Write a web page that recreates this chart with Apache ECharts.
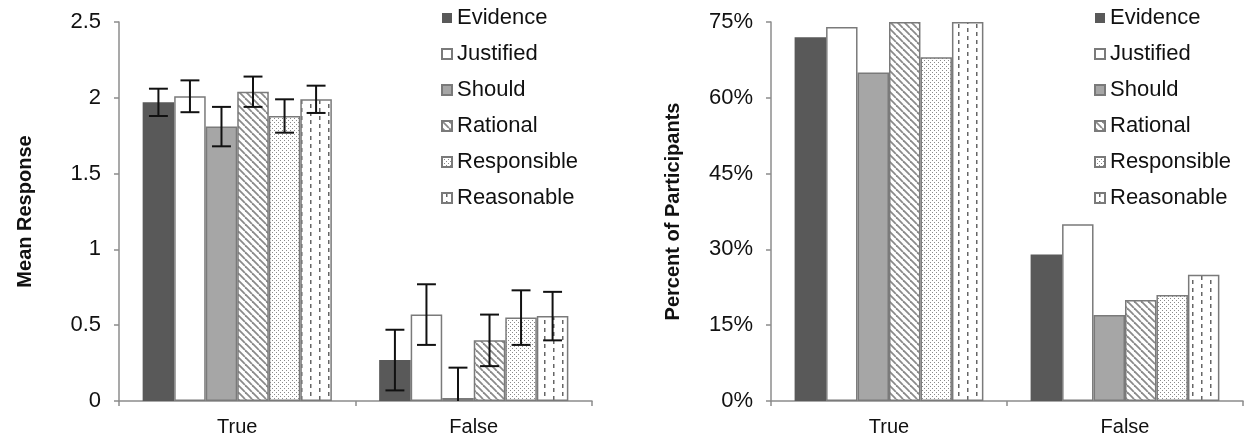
<!DOCTYPE html>
<html>
<head>
<meta charset="utf-8">
<script src="https://cdn.jsdelivr.net/npm/echarts@6/dist/echarts.min.js"></script>
<style>
html,body{margin:0;padding:0;background:#fff;}
#chart{width:1246px;height:440px;}
</style>
</head>
<body>
<div id="chart"></div>
<script>
// ---- data ----
var categories = ['True', 'False'];
var seriesNames = ['Evidence', 'Justified', 'Should', 'Rational', 'Responsible', 'Reasonable'];
// Left chart: mean response (True, False)
var meanEvidence    = [1.97, 0.27];
var meanJustified   = [2.01, 0.57];
var meanShould      = [1.81, 0.02];
var meanRational    = [2.04, 0.40];
var meanResponsible = [1.88, 0.55];
var meanReasonable  = [1.99, 0.56];
// Left chart: error (half-length of error bar)
var errEvidence    = [0.09, 0.20];
var errJustified   = [0.105, 0.20];
var errShould      = [0.13, 0.20];
var errRational    = [0.10, 0.17];
var errResponsible = [0.11, 0.18];
var errReasonable  = [0.09, 0.16];
// Right chart: percent of participants (True, False)
var pctEvidence    = [72, 29];
var pctJustified   = [74, 35];
var pctShould      = [65, 17];
var pctRational    = [75, 20];
var pctResponsible = [68, 21];
var pctReasonable  = [75, 25];
// axis ticks
var leftTicks = [0, 0.5, 1, 1.5, 2, 2.5];
var rightTicks = [0, 15, 30, 45, 60, 75];

var means = [meanEvidence, meanJustified, meanShould, meanRational, meanResponsible, meanReasonable];
var errs = [errEvidence, errJustified, errShould, errRational, errResponsible, errReasonable];
var pcts = [pctEvidence, pctJustified, pctShould, pctRational, pctResponsible, pctReasonable];

// ---- patterns ----
function makeCanvas(w, h, draw) {
  var c = document.createElement('canvas');
  c.width = w; c.height = h;
  var ctx = c.getContext('2d');
  ctx.fillStyle = '#fff';
  ctx.fillRect(0, 0, w, h);
  draw(ctx);
  return c;
}
var hatch = makeCanvas(7, 7, function (ctx) {
  ctx.strokeStyle = '#8a8a8a';
  ctx.lineWidth = 1.8;
  for (var k = -1; k <= 1; k++) {
    ctx.beginPath();
    ctx.moveTo(k * 7, 0);
    ctx.lineTo(k * 7 + 7, 7);
    ctx.stroke();
  }
});
var dots = makeCanvas(4, 4, function (ctx) {
  ctx.fillStyle = '#8a8a8a';
  ctx.fillRect(0, 0, 1, 1);
  ctx.fillRect(2, 2, 1, 1);
});
var dashes = makeCanvas(18, 8, function (ctx) {
  ctx.fillStyle = '#666';
  ctx.fillRect(4, 0, 1.5, 4);
  ctx.fillRect(13, 4, 1.5, 4);
});

var styles = [
  { color: '#595959', borderColor: '#595959', borderWidth: 0 },
  { color: '#ffffff', borderColor: '#7a7a7a', borderWidth: 1.5 },
  { color: '#a6a6a6', borderColor: '#7a7a7a', borderWidth: 1.5 },
  { color: { image: hatch, repeat: 'repeat' }, borderColor: '#7a7a7a', borderWidth: 1.5 },
  { color: { image: dots, repeat: 'repeat' }, borderColor: '#7a7a7a', borderWidth: 1.5 },
  { color: { image: dashes, repeat: 'repeat' }, borderColor: '#7a7a7a', borderWidth: 1.5 }
];

var FONT = 'Liberation Sans, Arial, Helvetica, sans-serif';
var axisGrey = '#8c8c8c';

function xAxis(gridIndex) {
  return {
    type: 'category', gridIndex: gridIndex, data: categories,
    axisLine: { lineStyle: { color: axisGrey, width: 1.5 } },
    axisTick: { show: true, length: 5, lineStyle: { color: axisGrey, width: 1.5 } },
    axisLabel: { color: '#111', fontSize: 20, fontFamily: FONT, margin: 16 }
  };
}
function yAxis(gridIndex, name, max, interval, fmt, gap, fs) {
  return {
    type: 'value', gridIndex: gridIndex, min: 0, max: max, interval: interval,
    name: name, nameLocation: 'middle', nameGap: gap, nameRotate: 90,
    nameTextStyle: { color: '#111', fontSize: 20, fontWeight: 'bold', fontFamily: FONT },
    axisLine: { show: true, lineStyle: { color: axisGrey, width: 1.5 } },
    axisTick: { show: true, length: 5, lineStyle: { color: axisGrey, width: 1.5 } },
    splitLine: { show: false },
    axisLabel: { color: '#111', fontSize: fs, fontFamily: FONT, margin: 18, formatter: fmt }
  };
}

var series = [];
seriesNames.forEach(function (n, i) {
  series.push({
    name: n, type: 'bar', xAxisIndex: 0, yAxisIndex: 0,
    barGap: '0%', barCategoryGap: '20%',
    data: means[i], itemStyle: styles[i], animation: false
  });
});
seriesNames.forEach(function (n, i) {
  series.push({
    type: 'custom', xAxisIndex: 0, yAxisIndex: 0, z: 5, clip: true, animation: false,
    data: categories.map(function (c, k) { return [k, means[i][k], errs[i][k]]; }),
    renderItem: function (params, api) {
      var cat = api.value(0), v = api.value(1), e = api.value(2);
      var base = api.coord([cat, v]);
      var catW = api.size([1, 0])[0];
      var bw = catW * 0.8 / 6;
      var cx = base[0] - catW * 0.4 + (i + 0.5) * bw;
      var yt = api.coord([cat, v + e])[1];
      var yb = api.coord([cat, v - e])[1];
      var hw = bw * 0.3;
      var st = { stroke: '#111', lineWidth: 2 };
      return {
        type: 'group',
        children: [
          { type: 'line', shape: { x1: cx, y1: yt, x2: cx, y2: yb }, style: st },
          { type: 'line', shape: { x1: cx - hw, y1: yt, x2: cx + hw, y2: yt }, style: st },
          { type: 'line', shape: { x1: cx - hw, y1: yb, x2: cx + hw, y2: yb }, style: st }
        ]
      };
    }
  });
});
seriesNames.forEach(function (n, i) {
  series.push({
    name: n, type: 'bar', xAxisIndex: 1, yAxisIndex: 1,
    barGap: '0%', barCategoryGap: '20%',
    data: pcts[i], itemStyle: styles[i], animation: false
  });
});

function legend(left) {
  return {
    data: seriesNames, orient: 'vertical', left: left, top: 7, padding: 0,
    itemWidth: 10, itemHeight: 10, itemGap: 14, icon: 'rect',
    selectedMode: false,
    textStyle: { color: '#111', fontSize: 22, fontFamily: FONT, lineHeight: 22 }
  };
}

var chart = echarts.init(document.getElementById('chart'), null, { renderer: 'canvas' });
chart.setOption({
  animation: false,
  backgroundColor: '#fff',
  grid: [
    { left: 119, top: 22, width: 473, height: 379 },
    { left: 771, top: 22, width: 472, height: 379 }
  ],
  legend: [legend(441), legend(1094)],
  xAxis: [xAxis(0), xAxis(1)],
  yAxis: [
    yAxis(0, 'Mean Response', 2.5, 0.5, function (v) { return String(v); }, 84, 22),
    yAxis(1, 'Percent of Participants', 75, 15, '{value}%', 88, 22)
  ],
  series: series
});
</script>
</body>
</html>
